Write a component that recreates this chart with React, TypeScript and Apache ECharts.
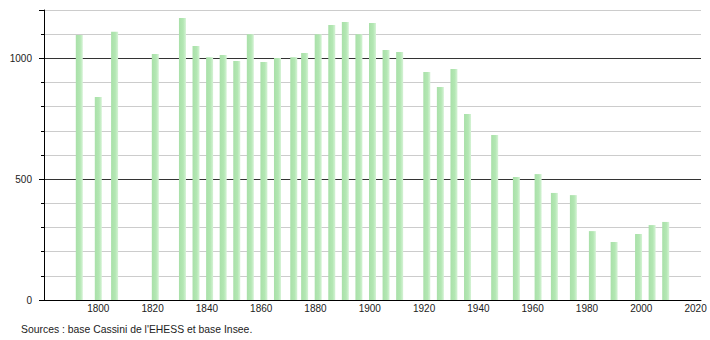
import React, { useEffect, useRef } from "react";
import * as echarts from "echarts";

const years = [
  1793, 1800, 1806, 1821, 1831, 1836, 1841, 1846, 1851, 1856, 1861, 1866, 1872, 1876,
  1881, 1886, 1891, 1896, 1901, 1906, 1911, 1921, 1926, 1931, 1936, 1946, 1954, 1962,
  1968, 1975, 1982, 1990, 1999, 2004, 2009,
];
const population = [
  1097, 840, 1110, 1018, 1167, 1051, 1005, 1014, 989, 1100, 985, 1001, 1005, 1022,
  1100, 1138, 1150, 1100, 1146, 1034, 1026, 943, 881, 956, 770, 683, 509, 521,
  443, 434, 285, 240, 273, 310, 323,
];
const yTickLabels = [0, 500, 1000];
const sourceText = "Sources : base Cassini de l'EHESS et base Insee.";

export default function App() {
  const ref = useRef<HTMLDivElement>(null);
  useEffect(() => {
    if (!ref.current) return;
    const chart = echarts.init(ref.current, null, { renderer: "svg" });
    const barColor = new echarts.graphic.LinearGradient(0, 0, 1, 0, [
      { offset: 0, color: "#a9e0a9" },
      { offset: 0.6, color: "#b3e7b3" },
      { offset: 1, color: "#d6f3d6" },
    ]);
    chart.setOption({
      animation: false,
      textStyle: { fontFamily: "Liberation Sans, Arial, sans-serif" },
      grid: { left: 44, right: 9, top: 10, bottom: 40, containLabel: false },
      xAxis: {
        type: "value",
        min: 1780,
        max: 2022,
        interval: 20,
        axisLine: { show: true, lineStyle: { color: "#000", width: 1 } },
        axisTick: { show: false },
        splitLine: { show: false },
        axisLabel: {
          color: "#222",
          fontSize: 10,
          margin: 3,
          showMinLabel: false,
          showMaxLabel: false,
          formatter: (v: number) => (v % 20 === 0 && v > 1780 ? String(v) : ""),
        },
      },
      yAxis: [
        {
          type: "value",
          min: 0,
          max: 1200,
          interval: 100,
          axisLine: { show: true, lineStyle: { color: "#000", width: 1 } },
          axisTick: { show: true, length: 3, lineStyle: { color: "#000" } },
          splitLine: {
            show: true,
            lineStyle: {
              color: ["#333", "#cccccc", "#cccccc", "#cccccc", "#cccccc"],
              width: 1,
            },
          },
          axisLabel: {
            color: "#222",
            fontSize: 10,
            margin: 12,
            formatter: (v: number) => (yTickLabels.includes(v) ? String(v) : ""),
          },
        },
        {
          type: "value",
          min: 0,
          max: 1200,
          interval: 500,
          position: "left",
          axisLine: { show: false },
          axisTick: { show: true, length: 5, lineStyle: { color: "#000" } },
          splitLine: { show: false },
          axisLabel: { show: false },
        },
      ],
      series: [
        {
          type: "bar",
          yAxisIndex: 0,
          barWidth: 7,
          data: years.map((y, i) => [y, population[i]]),
          itemStyle: { color: barColor },
          z: 3,
        },
      ],
      graphic: [
        {
          type: "text",
          left: 21,
          top: 324,
          style: {
            text: sourceText,
            fill: "#222",
            fontSize: 10.4,
            fontFamily: "Liberation Sans, Arial, sans-serif",
          },
        },
      ],
    });
    return () => chart.dispose();
  }, []);
  return (
    <div
      ref={ref}
      style={{ position: "fixed", left: 0, top: 0, width: 710, height: 340, background: "#fff" }}
    />
  );
}
